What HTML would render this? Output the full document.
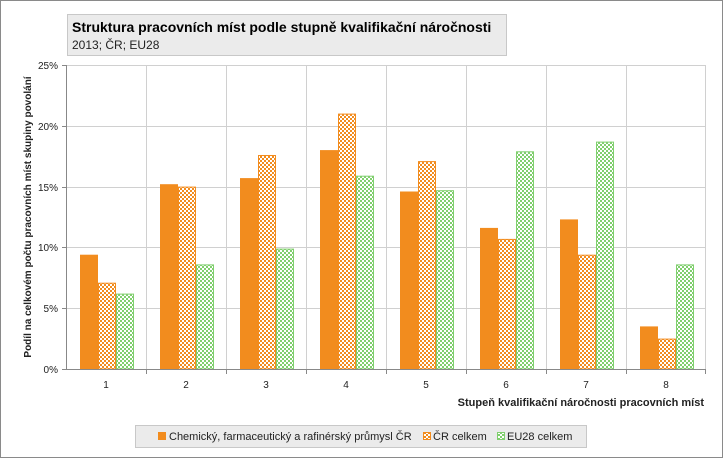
<!DOCTYPE html>
<html><head><meta charset="utf-8"><style>
body{margin:0;background:#fff}
svg{display:block;font-family:"Liberation Sans",sans-serif}
</style></head><body>
<svg width="723" height="458" viewBox="0 0 723 458" xmlns="http://www.w3.org/2000/svg">
<defs>
<pattern id="po" width="4" height="4" patternUnits="userSpaceOnUse"><rect width="4" height="4" fill="#fff"/><rect width="2" height="2" fill="#f28c1e"/><rect x="2" y="2" width="2" height="2" fill="#f28c1e"/></pattern>
<pattern id="pg" width="4" height="4" patternUnits="userSpaceOnUse"><rect width="4" height="4" fill="#fff"/><rect width="2" height="2" fill="#80cf6e"/><rect x="2" y="2" width="2" height="2" fill="#80cf6e"/></pattern>
</defs>
<rect x="0.5" y="0.5" width="722" height="457" fill="#fff" stroke="#8a8a8a"/>
<rect x="67.5" y="14.5" width="439" height="41" fill="#ebebeb" stroke="#c8c8c8"/>
<text x="72" y="32" font-size="14" font-weight="bold" fill="#000">Struktura pracovních míst podle stupně kvalifikační náročnosti</text>
<text x="72" y="49" font-size="12" fill="#222">2013; ČR; EU28</text>
<g stroke="#d0d0d0" stroke-width="1">
<line x1="66" y1="65.5" x2="706" y2="65.5"/><line x1="66" y1="126.5" x2="706" y2="126.5"/><line x1="66" y1="187.5" x2="706" y2="187.5"/><line x1="66" y1="247.5" x2="706" y2="247.5"/><line x1="66" y1="308.5" x2="706" y2="308.5"/>
<line x1="146.5" y1="65" x2="146.5" y2="369"/><line x1="226.5" y1="65" x2="226.5" y2="369"/><line x1="306.5" y1="65" x2="306.5" y2="369"/><line x1="386.5" y1="65" x2="386.5" y2="369"/><line x1="466.5" y1="65" x2="466.5" y2="369"/><line x1="546.5" y1="65" x2="546.5" y2="369"/><line x1="626.5" y1="65" x2="626.5" y2="369"/><line x1="705.5" y1="65" x2="705.5" y2="369"/>
</g>
<g fill="#f28c1e">
<rect x="80" y="254.7" width="18" height="114.3"/>
<rect x="160" y="184.2" width="18" height="184.8"/>
<rect x="240" y="178.1" width="18" height="190.9"/>
<rect x="320" y="150.1" width="18" height="218.9"/>
<rect x="400" y="191.5" width="18" height="177.5"/>
<rect x="480" y="227.9" width="18" height="141.1"/>
<rect x="560" y="219.4" width="18" height="149.6"/>
<rect x="640" y="326.4" width="18" height="42.6"/>
</g>
<g fill="url(#po)" stroke="#f28c1e">
<rect x="98.5" y="283.2" width="17" height="85.8"/>
<rect x="178.5" y="187.1" width="17" height="181.9"/>
<rect x="258.5" y="155.5" width="17" height="213.5"/>
<rect x="338.5" y="114.1" width="17" height="254.9"/>
<rect x="418.5" y="161.6" width="17" height="207.4"/>
<rect x="498.5" y="239.4" width="17" height="129.6"/>
<rect x="578.5" y="255.2" width="17" height="113.8"/>
<rect x="658.5" y="339.1" width="17" height="29.9"/>
</g>
<g fill="url(#pg)" stroke="#80cf6e">
<rect x="116.5" y="294.1" width="17" height="74.9"/>
<rect x="196.5" y="264.9" width="17" height="104.1"/>
<rect x="276.5" y="249.1" width="17" height="119.9"/>
<rect x="356.5" y="176.2" width="17" height="192.8"/>
<rect x="436.5" y="190.7" width="17" height="178.3"/>
<rect x="516.5" y="151.8" width="17" height="217.2"/>
<rect x="596.5" y="142.1" width="17" height="226.9"/>
<rect x="676.5" y="264.9" width="17" height="104.1"/>
</g>
<g stroke="#888"><line x1="66.5" y1="65" x2="66.5" y2="369"/><line x1="66" y1="369.5" x2="706" y2="369.5"/>
<line x1="62" y1="65.5" x2="66" y2="65.5"/><line x1="62" y1="126.5" x2="66" y2="126.5"/><line x1="62" y1="187.5" x2="66" y2="187.5"/><line x1="62" y1="247.5" x2="66" y2="247.5"/><line x1="62" y1="308.5" x2="66" y2="308.5"/><line x1="62" y1="369.5" x2="66" y2="369.5"/>
<line x1="146.5" y1="369" x2="146.5" y2="374"/><line x1="226.5" y1="369" x2="226.5" y2="374"/><line x1="306.5" y1="369" x2="306.5" y2="374"/><line x1="386.5" y1="369" x2="386.5" y2="374"/><line x1="466.5" y1="369" x2="466.5" y2="374"/><line x1="546.5" y1="369" x2="546.5" y2="374"/><line x1="626.5" y1="369" x2="626.5" y2="374"/><line x1="705.5" y1="369" x2="705.5" y2="374"/></g>
<g font-size="10" fill="#222" text-anchor="end">
<text x="58" y="69">25%</text><text x="58" y="130">20%</text><text x="58" y="191">15%</text><text x="58" y="251">10%</text><text x="58" y="312">5%</text><text x="58" y="373">0%</text></g>
<g font-size="10" fill="#222" text-anchor="middle">
<text x="106" y="388">1</text><text x="186" y="388">2</text><text x="266" y="388">3</text><text x="346" y="388">4</text><text x="426" y="388">5</text><text x="506" y="388">6</text><text x="586" y="388">7</text><text x="666" y="388">8</text></g>
<text x="704" y="406" font-size="11" font-weight="bold" fill="#222" text-anchor="end">Stupeň kvalifikační náročnosti pracovních míst</text>
<text transform="translate(31,217) rotate(-90)" font-size="10" font-weight="bold" fill="#222" text-anchor="middle">Podíl na celkovém počtu pracovních míst skupiny povolání</text>
<rect x="135.5" y="425.5" width="451" height="22" fill="#ebebeb" stroke="#c8c8c8"/>
<rect x="158" y="432" width="8" height="8" fill="#f28c1e"/>
<text x="169" y="440" font-size="11" fill="#222">Chemický, farmaceutický a rafinérský průmysl ČR</text>
<rect x="423.5" y="432.5" width="7" height="7" fill="url(#po)" stroke="#f28c1e"/>
<text x="433" y="440" font-size="11" fill="#222">ČR celkem</text>
<rect x="497.5" y="432.5" width="7" height="7" fill="url(#pg)" stroke="#80cf6e"/>
<text x="507" y="440" font-size="11" fill="#222">EU28 celkem</text>
</svg>
</body></html>
